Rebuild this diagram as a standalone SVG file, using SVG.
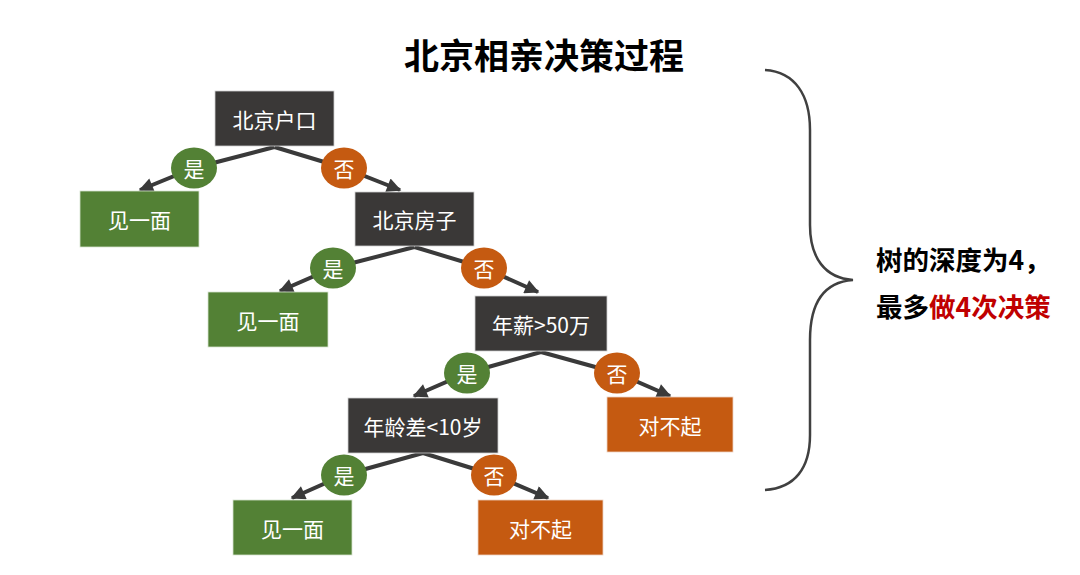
<svg xmlns="http://www.w3.org/2000/svg" width="1080" height="575" viewBox="0 0 1080 575">
<defs>
<style>
.t{font-family:"Noto Sans CJK SC","Noto Sans",sans-serif;}
.lbl{font-family:"Noto Sans CJK SC","Noto Sans",sans-serif;font-size:21px;fill:#ffffff;text-anchor:middle;dominant-baseline:central;}
.dark{fill:#3a3837;stroke:#cfcfcf;stroke-width:0.8;}
.green{fill:#538135;stroke:#d6e3cf;stroke-width:0.8;}
.orange{fill:#c55a11;stroke:#eed3c2;stroke-width:0.8;}
.yes{fill:#538135;}
.no{fill:#c55a11;}
.conn{fill:none;stroke:#3a3a3a;stroke-width:4;marker-end:url(#arr);}
</style>
<marker id="arr" viewBox="0 0 10 10" refX="9" refY="5" markerWidth="4.2" markerHeight="3.6" orient="auto" markerUnits="strokeWidth">
<path d="M0,0 L10,5 L0,10 z" fill="#3a3a3a"/>
</marker>
</defs>
<rect width="1080" height="575" fill="#ffffff"/>
<text class="t" x="544" y="69" font-size="35" font-weight="bold" text-anchor="middle" fill="#000000">北京相亲决策过程</text>

<g id="connectors">
<path class="conn" d="M274.5,147 L194,168 L140,190"/>
<path class="conn" d="M274.5,147 L344,168 L400,190"/>
<path class="conn" d="M414.5,247 L333,268 L280,291"/>
<path class="conn" d="M414.5,247 L484,268 L538,292"/>
<path class="conn" d="M541,352 L467,373 L414,396"/>
<path class="conn" d="M541,352 L617,373 L670,396"/>
<path class="conn" d="M423,453 L344,475 L292,498"/>
<path class="conn" d="M423,453 L494,475 L548,498"/>
</g>

<g id="edge-labels">
<g id="lbl-root-yes"><ellipse class="yes" cx="194" cy="168" rx="23" ry="20.5"/><text class="lbl" x="194" y="168">是</text></g>
<g id="lbl-root-no"><ellipse class="no" cx="344" cy="168" rx="23" ry="20.5"/><text class="lbl" x="344" y="168">否</text></g>
<g id="lbl-house-yes"><ellipse class="yes" cx="333" cy="268" rx="23" ry="20.5"/><text class="lbl" x="333" y="268">是</text></g>
<g id="lbl-house-no"><ellipse class="no" cx="484" cy="268" rx="23" ry="20.5"/><text class="lbl" x="484" y="268">否</text></g>
<g id="lbl-salary-yes"><ellipse class="yes" cx="467" cy="373" rx="23" ry="20.5"/><text class="lbl" x="467" y="373">是</text></g>
<g id="lbl-salary-no"><ellipse class="no" cx="617" cy="373" rx="23" ry="20.5"/><text class="lbl" x="617" y="373">否</text></g>
<g id="lbl-age-yes"><ellipse class="yes" cx="344" cy="475" rx="23" ry="20.5"/><text class="lbl" x="344" y="475">是</text></g>
<g id="lbl-age-no"><ellipse class="no" cx="494" cy="475" rx="23" ry="20.5"/><text class="lbl" x="494" y="475">否</text></g>
</g>

<g id="n-root"><rect class="dark" x="215" y="91" width="119" height="55"/><text class="lbl" x="274.5" y="118.5">北京户口</text></g>
<g id="n-meet1"><rect class="green" x="80" y="191" width="119" height="56"/><text class="lbl" x="139.5" y="219">见一面</text></g>
<g id="n-house"><rect class="dark" x="355" y="192" width="119" height="54"/><text class="lbl" x="414.5" y="219">北京房子</text></g>
<g id="n-meet2"><rect class="green" x="208" y="292" width="120" height="55"/><text class="lbl" x="268" y="319.5">见一面</text></g>
<g id="n-salary"><rect class="dark" x="475" y="296" width="132" height="55"/><text class="lbl" x="541" y="323.5">年薪&gt;50万</text></g>
<g id="n-sorry1"><rect class="orange" x="607" y="397" width="126" height="55"/><text class="lbl" x="670" y="424.5">对不起</text></g>
<g id="n-age"><rect class="dark" x="348" y="398" width="150" height="55"/><text class="lbl" x="423" y="425.5">年龄差&lt;10岁</text></g>
<g id="n-meet3"><rect class="green" x="233" y="500" width="119" height="55"/><text class="lbl" x="292.5" y="527.5">见一面</text></g>
<g id="n-sorry2"><rect class="orange" x="478" y="500" width="125" height="55"/><text class="lbl" x="540.5" y="527.5">对不起</text></g>

<g id="brace">
<path d="M765,70 C795,72 810,95 810,130 L810,225 C810,258 825,278 853,280 C825,282 810,302 810,340 L810,435 C810,468 795,488 765,490" fill="none" stroke="#404040" stroke-width="2.5"/>
</g>
<g id="note">
<text class="t" x="876" y="270" font-size="26.5" font-weight="bold" fill="#000000">树的深度为4，</text>
<text class="t" x="876" y="317" font-size="26.5" font-weight="bold" fill="#000000">最多<tspan fill="#c00000">做4次决策</tspan></text>
</g>
</svg>
